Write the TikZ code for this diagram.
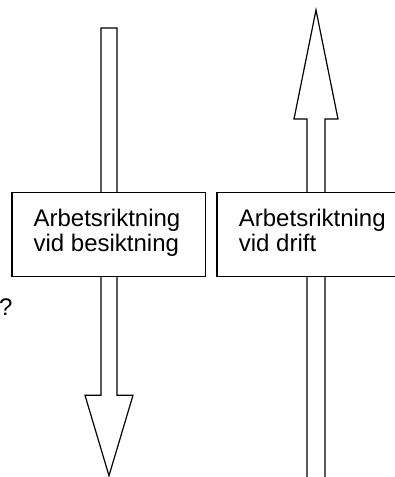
\documentclass[tikz,border=0pt]{standalone}
\usepackage{fontspec}
\setmainfont{Liberation Sans}
\begin{document}
\begin{tikzpicture}[x=1pt, y=-1pt, line width=1.2pt, line join=miter,
  arrowshape/.style={draw=black, fill=white},
  labelbox/.style={draw=black, fill=white, rectangle, inner sep=0pt},
  labeltext/.style={inner sep=0pt, align=left, anchor=base west,
    font=\fontsize{24}{25}\selectfont}]
  \useasboundingbox (0,0) rectangle (395,477);
  \clip (0,0) rectangle (395,477);

  % downward arrow: working direction during inspection
  \draw[arrowshape] (101,28) -- (117,28) -- (117,395.3) -- (133,395.3)
    -- (109,475.7) -- (85,395.3) -- (101,395.3) -- cycle;

  % upward arrow: working direction in operation
  \draw[arrowshape] (316,10) -- (338,119) -- (325,119) -- (325,490)
    -- (307,490) -- (307,119) -- (294,119) -- cycle;

  % label boxes laid over the arrow shafts
  \node[labelbox, minimum width=193.7pt, minimum height=84.4pt] (besikt) at (108.85,234.5) {};
  \node[labelbox, minimum width=190pt, minimum height=84.4pt] (drift) at (312,234.5) {};

  % the base anchor of a two-line node sits on its last line
  \node[labeltext] (besikttext) at (33,251.7) {Arbetsriktning\\vid besiktning};
  \node[labeltext] (drifttext) at (238.3,251.7) {Arbetsriktning\\vid drift};

  \node[inner sep=0pt, anchor=base west, font=\fontsize{24}{25}\selectfont] (fraga) at (-1.5,315) {?};
\end{tikzpicture}
\end{document}
